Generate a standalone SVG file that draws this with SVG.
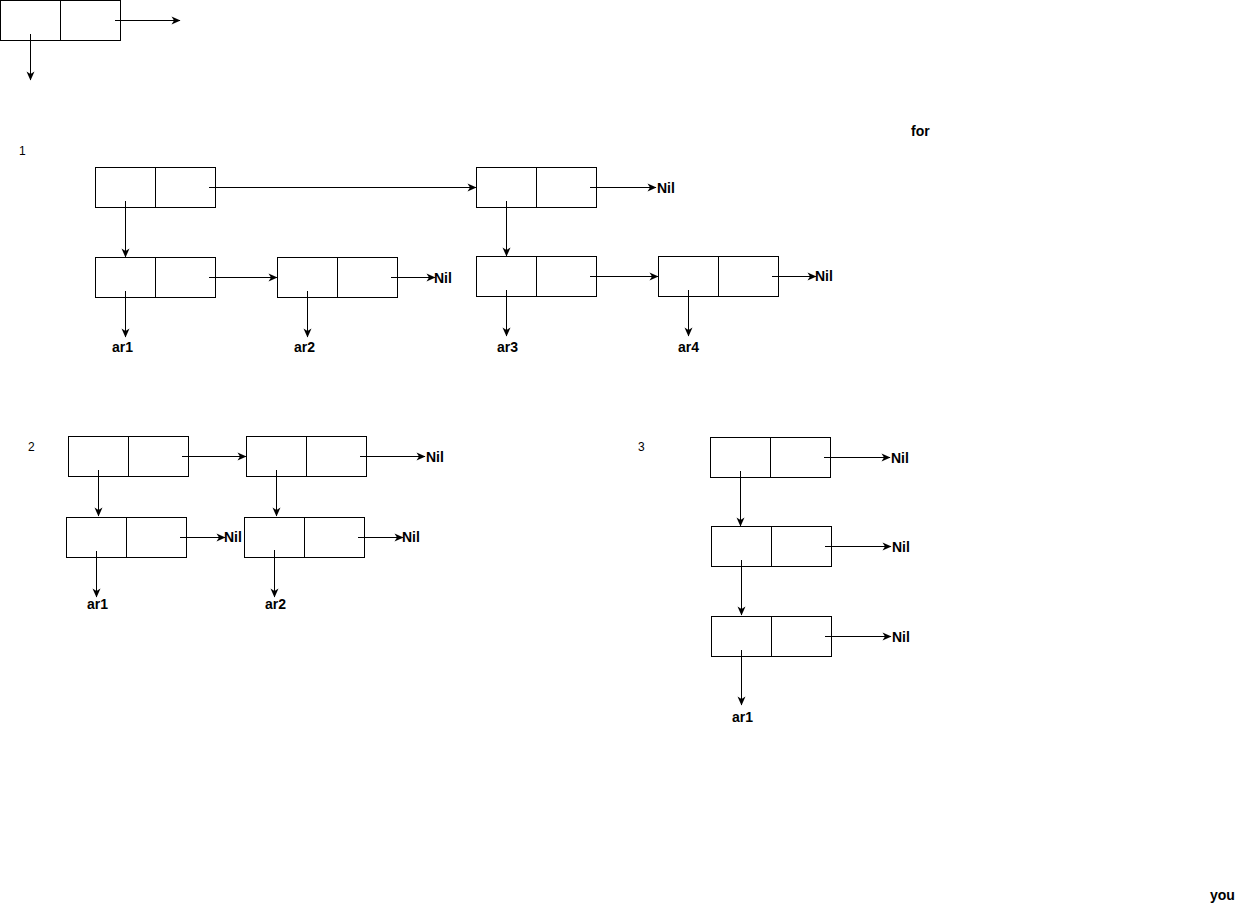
<svg xmlns="http://www.w3.org/2000/svg" width="1243" height="905" viewBox="0 0 1243 905">
<style>
.n rect{fill:#fff;stroke:#000;stroke-width:1}
.n line{stroke:#000;stroke-width:1}
.c line{stroke:#000;stroke-width:1;marker-end:url(#a)}
.t{font-family:"Liberation Sans",Arial,sans-serif;font-size:14px;font-weight:bold;fill:#000}
.s{font-family:"Liberation Sans",Arial,sans-serif;font-size:12px;fill:#000}
</style>
<defs>
<marker id="a" markerUnits="userSpaceOnUse" markerWidth="10" markerHeight="10" refX="8.5" refY="4" orient="auto" overflow="visible">
<path d="M0,0 L9,4 L0,8 L2.5,4 z" fill="#000"/>
</marker>
</defs>
<rect width="1243" height="905" fill="#fff"/>
<g id="node0" class="n"><rect x="0.5" y="0.5" width="120" height="40"/><line x1="60.5" y1="0.5" x2="60.5" y2="40.5"/></g>
<g id="node1a" class="n"><rect x="95.5" y="167.5" width="120" height="40"/><line x1="155.5" y1="167.5" x2="155.5" y2="207.5"/></g>
<g id="node1b" class="n"><rect x="476.5" y="167.5" width="120" height="40"/><line x1="536.5" y1="167.5" x2="536.5" y2="207.5"/></g>
<g id="node1c" class="n"><rect x="95.5" y="257.5" width="120" height="40"/><line x1="155.5" y1="257.5" x2="155.5" y2="297.5"/></g>
<g id="node1d" class="n"><rect x="277.5" y="257.5" width="120" height="40"/><line x1="337.5" y1="257.5" x2="337.5" y2="297.5"/></g>
<g id="node1e" class="n"><rect x="476.5" y="256.5" width="120" height="40"/><line x1="536.5" y1="256.5" x2="536.5" y2="296.5"/></g>
<g id="node1f" class="n"><rect x="658.5" y="256.5" width="120" height="40"/><line x1="718.5" y1="256.5" x2="718.5" y2="296.5"/></g>
<g id="node2a" class="n"><rect x="68.5" y="436.5" width="120" height="40"/><line x1="128.5" y1="436.5" x2="128.5" y2="476.5"/></g>
<g id="node2b" class="n"><rect x="246.5" y="436.5" width="120" height="40"/><line x1="306.5" y1="436.5" x2="306.5" y2="476.5"/></g>
<g id="node2c" class="n"><rect x="66.5" y="517.5" width="120" height="40"/><line x1="126.5" y1="517.5" x2="126.5" y2="557.5"/></g>
<g id="node2d" class="n"><rect x="244.5" y="517.5" width="120" height="40"/><line x1="304.5" y1="517.5" x2="304.5" y2="557.5"/></g>
<g id="node3a" class="n"><rect x="710.5" y="437.5" width="120" height="40"/><line x1="770.5" y1="437.5" x2="770.5" y2="477.5"/></g>
<g id="node3b" class="n"><rect x="711.5" y="526.5" width="120" height="40"/><line x1="771.5" y1="526.5" x2="771.5" y2="566.5"/></g>
<g id="node3c" class="n"><rect x="711.5" y="616.5" width="120" height="40"/><line x1="771.5" y1="616.5" x2="771.5" y2="656.5"/></g>
<g id="connectors" class="c">
<line x1="115" y1="20.5" x2="180" y2="20.5"/>
<line x1="30.5" y1="34" x2="30.5" y2="80"/>
<line x1="209" y1="187.5" x2="476" y2="187.5"/>
<line x1="125.5" y1="201" x2="125.5" y2="257"/>
<line x1="590" y1="187.5" x2="656" y2="187.5"/>
<line x1="506.5" y1="201" x2="506.5" y2="256"/>
<line x1="209" y1="277.5" x2="277" y2="277.5"/>
<line x1="125.5" y1="291" x2="125.5" y2="337"/>
<line x1="391" y1="277.5" x2="435" y2="277.5"/>
<line x1="307.5" y1="291" x2="307.5" y2="337"/>
<line x1="590" y1="276.5" x2="658" y2="276.5"/>
<line x1="506.5" y1="290" x2="506.5" y2="336"/>
<line x1="772" y1="276.5" x2="816" y2="276.5"/>
<line x1="688.5" y1="290" x2="688.5" y2="336"/>
<line x1="182" y1="456.5" x2="246" y2="456.5"/>
<line x1="98.5" y1="470" x2="98.5" y2="516"/>
<line x1="360" y1="456.5" x2="425" y2="456.5"/>
<line x1="276.5" y1="470" x2="276.5" y2="516"/>
<line x1="180" y1="537.5" x2="225" y2="537.5"/>
<line x1="96.5" y1="551" x2="96.5" y2="597"/>
<line x1="358" y1="537.5" x2="403" y2="537.5"/>
<line x1="274.5" y1="550" x2="274.5" y2="597"/>
<line x1="824" y1="457.5" x2="890" y2="457.5"/>
<line x1="740.5" y1="471" x2="740.5" y2="526"/>
<line x1="825" y1="546.5" x2="891" y2="546.5"/>
<line x1="741.5" y1="560" x2="741.5" y2="615"/>
<line x1="825" y1="636.5" x2="891" y2="636.5"/>
<line x1="741.5" y1="650" x2="741.5" y2="705"/>
</g>
<g id="labels">
<text class="s" x="19" y="155">1</text>
<text class="s" x="28" y="451">2</text>
<text class="s" x="638" y="451">3</text>
<text class="t" x="911" y="136">for</text>
<text class="t" x="1210" y="900">you</text>
<text class="t" x="657" y="193">Nil</text>
<text class="t" x="434" y="283">Nil</text>
<text class="t" x="815" y="281">Nil</text>
<text class="t" x="112" y="352">ar1</text>
<text class="t" x="294" y="352">ar2</text>
<text class="t" x="497" y="352">ar3</text>
<text class="t" x="678" y="352">ar4</text>
<text class="t" x="426" y="462">Nil</text>
<text class="t" x="224" y="542">Nil</text>
<text class="t" x="402" y="542">Nil</text>
<text class="t" x="87" y="609">ar1</text>
<text class="t" x="265" y="609">ar2</text>
<text class="t" x="891" y="463">Nil</text>
<text class="t" x="892" y="552">Nil</text>
<text class="t" x="892" y="642">Nil</text>
<text class="t" x="732" y="722">ar1</text>
</g>
</svg>
